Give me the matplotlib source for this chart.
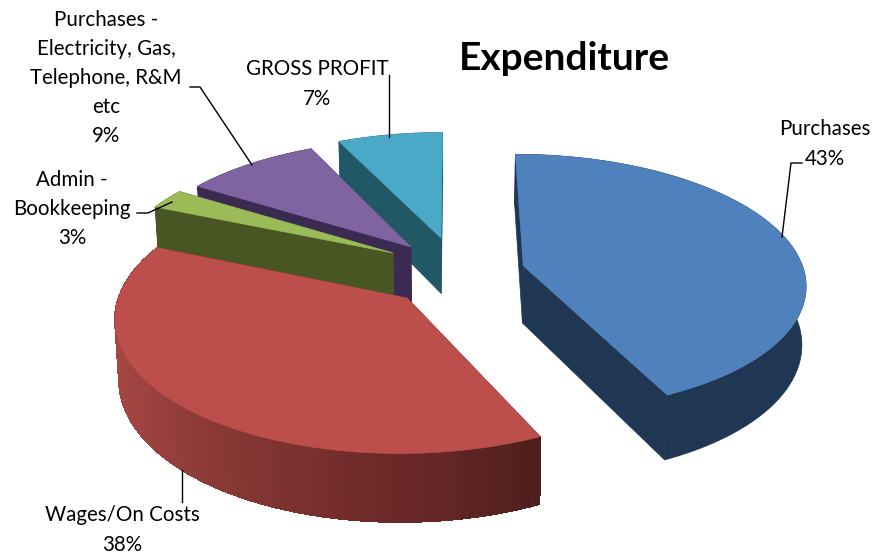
import numpy as np
import matplotlib
matplotlib.use("Agg")
import matplotlib.pyplot as plt
from matplotlib.patches import Polygon
from matplotlib.colors import to_rgb

plt.rcParams["font.family"] = ["Lato", "DejaVu Sans"]

labels = ["Purchases", "Wages/On Costs", "Admin -\nBookkeeping",
          "Purchases -\nElectricity, Gas,\nTelephone, R&M\netc", "GROSS PROFIT"]
values = [43, 38.45, 2.55, 9, 7]

top_colors = ["#4f81bd", "#bc4f4c", "#9bbb59", "#8064a2", "#4aa9c6"]
wall_colors = ["#1f3752", "#5a2220", "#475623", "#3b2a52", "#215866"]

# how far each slice is pulled out, in pie radii (x right, y back)
explode_x = [0.2446, -0.166, -0.225, -0.161, -0.0516]
explode_y = [-0.03, -0.2776, 0.0727, 0.122, 0.197]

# camera
CX, CY = 455, 262
RX, RY = 278, 125
PERSP = 0.13
DEPTH = 57
CONVERGE = 0.012

# side wall of the red slice fades from left to right
red_x = [115, 200, 350, 450, 540]
red_rim = ["#a54744", "#8d3a37", "#722c2a", "#622625", "#4f1e1c"]


def project(x, y):
    w = 1 + PERSP * y
    return CX + RX * x / w, CY - RY * y / w


def drop(x, y):
    w = 1 + PERSP * y
    sx, sy = project(x, y)
    return CX + (sx - CX) * (1 - CONVERGE), sy + DEPTH / w


def rim_color(sx):
    return tuple(np.interp(sx, red_x, [to_rgb(c)[k] for c in red_rim]) for k in range(3))


def draw_slice(ax, i, a0, a1, z):
    ex, ey = explode_x[i], explode_y[i]
    th = np.radians(np.linspace(a0, a1, max(int(a1 - a0) * 2, 8)))
    rx, ry = ex + np.sin(th), ey + np.cos(th)

    # cut faces
    for k in (0, -1):
        pts = [project(ex, ey), project(rx[k], ry[k]), drop(rx[k], ry[k]), drop(ex, ey)]
        ax.add_patch(Polygon(pts, fc=wall_colors[i], ec=wall_colors[i], lw=0.5, zorder=z))

    # outer wall
    outer = [project(a, b) for a, b in zip(rx, ry)] + [drop(a, b) for a, b in zip(rx[::-1], ry[::-1])]
    ax.add_patch(Polygon(outer, fc=wall_colors[i], ec=wall_colors[i], lw=0.5, zorder=z + 0.1))
    if i == 1:
        for k in range(len(th) - 1):
            pts = [project(rx[k], ry[k]), project(rx[k + 1], ry[k + 1]),
                   drop(rx[k + 1], ry[k + 1]), drop(rx[k], ry[k])]
            c = rim_color(pts[0][0])
            ax.add_patch(Polygon(pts, fc=c, ec=c, lw=0.8, antialiased=False, zorder=z + 0.2))

    # top
    pts = [project(ex, ey)] + [project(a, b) for a, b in zip(rx, ry)]
    ax.add_patch(Polygon(pts, fc=top_colors[i], ec=top_colors[i], lw=0.4, zorder=z + 0.5))


fig = plt.figure(figsize=(8.91, 5.55), dpi=100)
ax = fig.add_axes([0, 0, 1, 1])
ax.set_xlim(0, 891)
ax.set_ylim(555, 0)
ax.axis("off")

edges = np.cumsum([0] + values) / sum(values) * 360
# back slices first so the front ones cover them
for z, i in enumerate([4, 3, 2, 1, 0]):
    draw_slice(ax, i, edges[i], edges[i + 1], z)

ax.text(564, 58, "Expenditure", ha="center", va="center", fontsize=28, fontweight="bold", color="black")

label_pos = [(825, 144), (122, 530), (72, 209), (106, 78), (317, 84)]
for lab, val, (x, y) in zip(labels, values, label_pos):
    ax.text(x, y, f"{lab}\n{val:.0f}%", ha="center", va="center", fontsize=14.8, linespacing=1.57,
            color="black", zorder=30)

leaders = [
    ([802, 791, 782], [163, 163, 237]),
    ([182, 182], [470, 502]),
    ([137, 148, 172], [213, 213, 202]),
    ([190, 200, 252], [87, 87, 165]),
    ([389, 389], [75, 137]),
]
for lx, ly in leaders:
    ax.plot(lx, ly, color="black", lw=1.0, zorder=29)

fig.savefig("out.png", dpi=100)
